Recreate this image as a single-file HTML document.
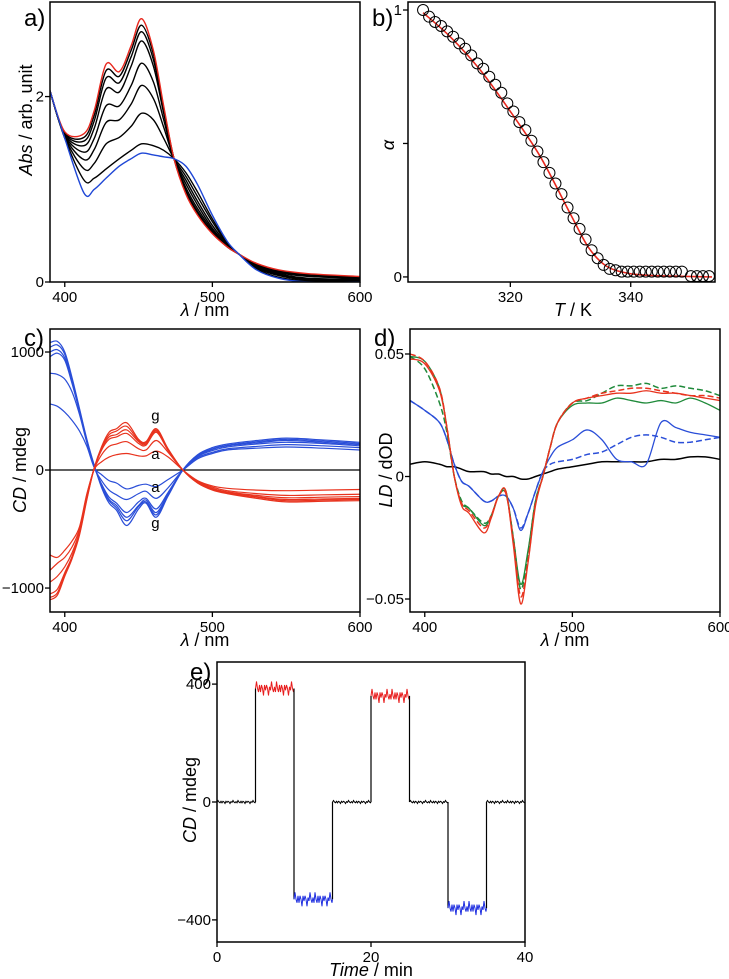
<!DOCTYPE html>
<html><head><meta charset="utf-8">
<style>
html,body{margin:0;padding:0;background:#fff;}
svg{display:block;font-family:"Liberation Sans",sans-serif;}
.tk{font-size:15px;fill:#000;}
.ttl{font-size:18px;fill:#000;}
.pl{font-size:24px;fill:#000;}
</style></head>
<body>
<svg id="fig" width="729" height="979" viewBox="0 0 729 979" xmlns="http://www.w3.org/2000/svg"></svg>
<script>
// ---------- Panel a data ----------
const aWl = [390,400,413,420,428,437,445,452,460,467,474,482,490,500,510,518,530,545,565,600];
const aRed = [2.06,1.62,1.60,1.85,2.35,2.27,2.55,2.84,2.50,1.90,1.33,0.95,0.72,0.52,0.38,0.30,0.20,0.13,0.09,0.06];
const aBlack1 = [2.06,1.61,1.56,1.80,2.28,2.22,2.50,2.77,2.46,1.88,1.33,0.97,0.74,0.53,0.38,0.30,0.19,0.12,0.08,0.05];
const aBlack2 = [2.06,1.60,1.52,1.74,2.20,2.15,2.43,2.70,2.40,1.85,1.33,0.99,0.76,0.54,0.38,0.30,0.19,0.11,0.07,0.05];
const aBlack3 = [2.06,1.59,1.47,1.66,2.08,2.05,2.33,2.60,2.33,1.82,1.33,1.02,0.79,0.56,0.39,0.30,0.18,0.10,0.06,0.04];
const aBlack4 = [2.06,1.58,1.40,1.55,1.90,1.90,2.12,2.36,2.16,1.75,1.33,1.06,0.83,0.58,0.40,0.30,0.17,0.09,0.04,0.03];
const aBlack5 = [2.06,1.57,1.32,1.43,1.72,1.75,1.92,2.12,1.98,1.67,1.33,1.10,0.87,0.61,0.41,0.30,0.16,0.08,0.03,0.02];
const aBlack6 = [2.06,1.56,1.22,1.28,1.49,1.56,1.68,1.82,1.75,1.55,1.33,1.14,0.92,0.65,0.42,0.30,0.15,0.07,0.02,0.01];
const aBlack7 = [2.06,1.55,1.10,1.12,1.22,1.33,1.42,1.49,1.47,1.42,1.33,1.18,0.97,0.68,0.43,0.30,0.14,0.05,0.01,0.00];
const aBlue = [2.06,1.55,0.96,1.00,1.12,1.25,1.33,1.39,1.37,1.35,1.33,1.25,1.05,0.72,0.44,0.30,0.13,0.04,0.00,0.00];
const aXTicks = [400,500,600];
const aYTicks = [0,2];

// ---------- Panel b data ----------
const bT = [305.5,306.5,307.5,308.5,309.5,310.5,311.5,312.5,313.5,314.5,315.5,316.5,317.5,318.5,319.5,320.5,321.5,322.5,323.5,324.5,325.5,326.5,327.5,328.5,329.5,330.5,331.5,332.5,333.5,334.5,335.5,336.5,337.5,338.5,339.5,340.5,341.5,342.5,343.5,344.5,345.5,346.5,347.5,348.5,350.0,351.0,352.0,353.0];
const bAlpha = [1.00,0.975,0.955,0.94,0.92,0.90,0.875,0.855,0.83,0.80,0.78,0.75,0.72,0.69,0.65,0.62,0.58,0.55,0.51,0.47,0.43,0.39,0.35,0.31,0.26,0.22,0.18,0.14,0.10,0.07,0.045,0.03,0.025,0.02,0.02,0.02,0.02,0.02,0.02,0.02,0.02,0.02,0.02,0.02,0.003,0.003,0.003,0.003];
const bFitT = [305.5,310,315,320,325,330,333,336,340,345,353.5];
const bFitA = [0.99,0.90,0.775,0.62,0.45,0.235,0.11,0.04,0.012,0.004,0.0];
const bXTicks = [320,340];
const bYTicks = [0,0.5,1];

// ---------- Panel c data ----------
const cWl = [390,395,400,405,410,415,420,425,430,435,442,450,455,462,470,480,490,500,510,530,550,575,600];
const cBlue1 = [1080,1090,1000,780,520,260,40,-150,-280,-340,-470,-330,-280,-400,-220,0,130,190,220,250,270,255,235];
const cBlue2 = [1040,1060,980,760,510,250,35,-140,-260,-320,-430,-310,-270,-380,-210,0,125,180,210,240,260,245,225];
const cBlue3 = [1000,1020,950,740,500,245,30,-130,-250,-300,-400,-300,-255,-360,-200,0,120,175,205,230,250,235,215];
const cBlue4 = [960,990,930,730,495,240,25,-120,-230,-280,-360,-270,-240,-330,-190,0,115,165,195,220,235,225,205];
const cBlue5 = [820,810,770,660,470,230,20,-90,-170,-210,-250,-200,-180,-240,-150,0,105,150,180,200,215,205,190];
const cBlue6 = [560,540,490,420,330,200,20,-40,-90,-110,-160,-130,-120,-140,-80,0,95,140,170,185,195,185,170];
const cRed1 = [-1100,-1060,-900,-750,-550,-250,20,200,320,350,400,260,240,350,180,0,-110,-170,-200,-240,-270,-265,-260];
const cRed2 = [-1080,-1040,-880,-740,-540,-240,20,190,300,330,370,250,230,340,175,0,-110,-165,-195,-230,-260,-255,-250];
const cRed3 = [-1050,-1010,-870,-730,-530,-230,20,180,280,300,340,240,220,330,170,0,-105,-160,-190,-225,-250,-245,-240];
const cRed4 = [-950,-900,-820,-700,-520,-220,15,170,260,280,310,225,210,320,165,0,-100,-155,-185,-215,-235,-230,-225];
const cRed5 = [-850,-790,-740,-650,-500,-210,10,130,200,220,240,180,170,250,150,0,-95,-145,-175,-200,-215,-210,-205];
const cRed6 = [-720,-740,-680,-600,-480,-200,5,70,110,130,140,120,120,160,110,0,-90,-135,-155,-170,-175,-170,-165];
const cZero = [0,0,0,0,0,0,0,0,0,0,0,0,0,0,0,0,0,0,0,0,0,0,0];
const cXTicks = [400,500,600];
const cYTicks = [-1000,0,1000];

// ---------- Panel d data ----------
const dWl = [390,400,410,415,420,425,430,440,445,450,455,460,465,470,475,480,485,490,500,510,520,530,540,550,560,570,580,590,600];
const dRedSolid = [0.048,0.046,0.035,0.020,0.000,-0.012,-0.015,-0.023,-0.017,-0.008,-0.006,-0.028,-0.052,-0.035,-0.012,0.000,0.012,0.022,0.030,0.032,0.033,0.034,0.034,0.035,0.034,0.034,0.033,0.032,0.031];
const dRedDash = [0.050,0.047,0.036,0.020,0.000,-0.011,-0.014,-0.021,-0.016,-0.008,-0.007,-0.026,-0.049,-0.034,-0.011,0.000,0.012,0.022,0.030,0.032,0.034,0.035,0.036,0.036,0.035,0.034,0.033,0.033,0.032];
const dGreenSolid = [0.049,0.047,0.036,0.020,0.000,-0.011,-0.013,-0.020,-0.016,-0.008,-0.006,-0.025,-0.044,-0.030,-0.010,0.000,0.012,0.022,0.029,0.030,0.030,0.032,0.031,0.030,0.031,0.030,0.032,0.030,0.027];
const dGreenDash = [0.049,0.044,0.030,0.018,0.000,-0.010,-0.013,-0.019,-0.016,-0.008,-0.007,-0.025,-0.046,-0.031,-0.010,0.000,0.012,0.022,0.030,0.031,0.034,0.037,0.037,0.038,0.036,0.037,0.036,0.035,0.033];
const dBlueSolid = [0.031,0.027,0.022,0.015,0.005,-0.002,-0.004,-0.010,-0.010,-0.008,-0.008,-0.013,-0.022,-0.015,-0.006,0.002,0.008,0.012,0.015,0.019,0.015,0.007,0.006,0.005,0.022,0.020,0.018,0.017,0.016];
const dBlueDash = [0.031,0.027,0.022,0.015,0.005,-0.002,-0.004,-0.010,-0.010,-0.008,-0.008,-0.013,-0.021,-0.015,-0.006,0.002,0.005,0.006,0.007,0.009,0.010,0.013,0.016,0.017,0.016,0.014,0.014,0.015,0.016];
const dBlack = [0.005,0.006,0.005,0.004,0.004,0.003,0.002,0.002,0.001,0.001,0.000,0.000,-0.001,-0.001,0.000,0.001,0.002,0.003,0.004,0.005,0.006,0.006,0.006,0.006,0.007,0.007,0.008,0.008,0.007];
const dXTicks = [400,500,600];
const dYTicks = [-0.05,0,0.05];

// ---------- Panel e data ----------
const eSegStart = [0,5,10,15,20,25,30,35];
const eSegEnd = [5,10,15,20,25,30,35,40];
const eSegLevel = [0,385,-330,0,360,0,-360,0];
const eSegKind = ["off","p","m","off","p","off","m","off"];
const eXTicks = [0,20,40];
const eYTicks = [-400,0,400];

const NS = "http://www.w3.org/2000/svg";
const svg = document.getElementById("fig");
function el(tag, attrs, parent) {
  const e = document.createElementNS(NS, tag);
  for (const k in attrs) e.setAttribute(k, attrs[k]);
  (parent || svg).appendChild(e);
  return e;
}
function scale(d0, d1, r0, r1) { return v => r0 + (v - d0) * (r1 - r0) / (d1 - d0); }
function smoothPath(xs, ys) {
  let d = "M" + xs[0].toFixed(2) + "," + ys[0].toFixed(2);
  for (let i = 0; i < xs.length - 1; i++) {
    const x0 = xs[Math.max(i-1,0)], y0 = ys[Math.max(i-1,0)];
    const x1 = xs[i], y1 = ys[i], x2 = xs[i+1], y2 = ys[i+1];
    const x3 = xs[Math.min(i+2,xs.length-1)], y3 = ys[Math.min(i+2,xs.length-1)];
    const c1x = x1 + (x2 - x0)/6, c1y = y1 + (y2 - y0)/6;
    const c2x = x2 - (x3 - x1)/6, c2y = y2 - (y3 - y1)/6;
    d += " C" + c1x.toFixed(2) + "," + c1y.toFixed(2) + " " + c2x.toFixed(2) + "," + c2y.toFixed(2) + " " + x2.toFixed(2) + "," + y2.toFixed(2);
  }
  return d;
}
function panel(name, box, xd, yd) {
  const g = el("g", {});
  
  
  const clipId = name + "-clip";
  const cp = el("clipPath", {id: clipId}, g);
  el("rect", {x: box.l, y: box.t, width: box.r - box.l, height: box.b - box.t}, cp);
  const plot = el("g", {"clip-path": "url(#" + clipId + ")"}, g);
  
  
  return {g, plot, box, x: scale(xd[0], xd[1], box.l, box.r), y: scale(yd[0], yd[1], box.b, box.t)};
}
function frame(P) {
  const b = P.box;
  const r = el("rect", {x: b.l, y: b.t, width: b.r - b.l, height: b.b - b.t, fill: "none", stroke: "#000", "stroke-width": 1.5}, P.g);
  
  
}
function xTicks(P, ticks, fmt) {
  const ax = el("g", {}, P.g);
  
  
  ticks.forEach(t => {
    const X = P.x(t);
    el("line", {x1: X, x2: X, y1: P.box.b, y2: P.box.b + 5, stroke: "#000", "stroke-width": 1.3}, ax);
    const tx = el("text", {x: X, y: P.box.b + 20, "text-anchor": "middle", class: "tk"}, ax);
    tx.textContent = fmt ? fmt(t) : String(t);
    
    
  });
}
function yTicks(P, ticks, fmt) {
  const ax = el("g", {}, P.g);
  
  
  ticks.forEach(t => {
    const Y = P.y(t);
    el("line", {x1: P.box.l - 5, x2: P.box.l, y1: Y, y2: Y, stroke: "#000", "stroke-width": 1.3}, ax);
    const s = fmt ? fmt(t) : String(t);
    if (s === "") return;
    const tx = el("text", {x: P.box.l - 6, y: Y + 5, "text-anchor": "end", class: "tk"}, ax);
    tx.textContent = s;
    
    
  });
}
function curve(P, xs, ys, color, name, width, dash) {
  const p = el("path", {d: smoothPath(xs.map(P.x), ys.map(P.y)), fill: "none", stroke: color, "stroke-width": width || 1.3, "stroke-linejoin": "round"}, P.plot);
  if (dash) p.setAttribute("stroke-dasharray", dash);
  
  
  return p;
}
function label(txt, x, y, cls, name, extra) {
  const t = el("text", Object.assign({x: x, y: y, class: cls}, extra || {}));
  t.innerHTML = txt;
  
  
  return t;
}

// ===== Panel a =====
const A = panel("panel-a", {l: 50, r: 360, t: 2, b: 282}, [390, 600], [0, 3.02]);
const aBlacks = [aBlack1, aBlack2, aBlack3, aBlack4, aBlack5, aBlack6, aBlack7];
aBlacks.forEach((s, i) => curve(A, aWl, s, "#000", "abs-spectrum-" + (i+2), 1.4));
curve(A, aWl, aRed, "#e8281e", "abs-spectrum-red", 1.4);
curve(A, aWl, aBlue, "#1f47d6", "abs-spectrum-blue", 1.4);
frame(A); xTicks(A, aXTicks); yTicks(A, aYTicks);
label("a)", 24, 26, "pl", "panel-a-label");
label('<tspan font-style="italic">Abs</tspan> / arb. unit', 0, 0, "ttl", "y-axis-title-a", {transform: "translate(32,120) rotate(-90)", "text-anchor": "middle"});
label('<tspan font-style="italic">λ</tspan> / nm', 205, 316, "ttl", "x-axis-title-a", {"text-anchor": "middle"});

// ===== Panel b =====
const B = panel("panel-b", {l: 408, r: 715, t: 2, b: 282}, [303.0, 354.0], [-0.019, 1.03]);
curve(B, bFitT, bFitA, "#e8281e", "fit-line", 1.6);
bT.forEach((t, i) => {
  const c = el("circle", {cx: B.x(t), cy: B.y(bAlpha[i]), r: 5.5, fill: "none", stroke: "#000", "stroke-width": 1}, B.plot);
  
  
});
frame(B); xTicks(B, bXTicks); yTicks(B, bYTicks, t => t === 0.5 ? "" : String(t));
label("b)", 372, 26, "pl", "panel-b-label");
label('α', 0, 0, "ttl", "y-axis-title-b", {transform: "translate(394,145) rotate(-90)", "text-anchor": "middle", "font-style": "italic"});
label('<tspan font-style="italic">T</tspan> / K', 573, 316, "ttl", "x-axis-title-b", {"text-anchor": "middle"});

// ===== Panel c =====
const C = panel("panel-c", {l: 50, r: 360, t: 329, b: 612}, [390, 600], [-1203, 1195]);
curve(C, cWl, cZero, "#000", "zero-line", 1.2);
[cBlue1, cBlue2, cBlue3, cBlue4, cBlue5, cBlue6].forEach((s, i) => curve(C, cWl, s, "#2a4ed8", "cd-blue-" + (i+1), 1.2));
[cRed1, cRed2, cRed3, cRed4, cRed5, cRed6].forEach((s, i) => curve(C, cWl, s, "#e8331e", "cd-red-" + (i+1), 1.2));
frame(C); xTicks(C, cXTicks); yTicks(C, cYTicks, t => t < 0 ? "\u22121000" : String(t));
label("g", C.x(462) - 5, C.y(420), "tk", "label-g-red");
label("a", C.x(462) - 5, C.y(95), "tk", "label-a-red");
label("a", C.x(462) - 5, C.y(-185), "tk", "label-a-blue");
label("g", C.x(462) - 5, C.y(-490), "tk", "label-g-blue");
label("c)", 24, 346, "pl", "panel-c-label");
label('<tspan font-style="italic">CD</tspan> / mdeg', 0, 0, "ttl", "y-axis-title-c", {transform: "translate(26,470) rotate(-90)", "text-anchor": "middle"});
label('<tspan font-style="italic">λ</tspan> / nm', 205, 646, "ttl", "x-axis-title-c", {"text-anchor": "middle"});

// ===== Panel d =====
const D = panel("panel-d", {l: 410, r: 720, t: 329, b: 612}, [390, 600], [-0.0553, 0.0602]);
curve(D, dWl, dBlack, "#000", "ld-black", 1.5);
curve(D, dWl, dBlueDash, "#2a4ed8", "ld-blue-dashed", 1.5, "6,3");
curve(D, dWl, dBlueSolid, "#2a4ed8", "ld-blue-solid", 1.3);
curve(D, dWl, dGreenDash, "#1f8a3a", "ld-green-dashed", 1.5, "6,3");
curve(D, dWl, dGreenSolid, "#1f8a3a", "ld-green-solid", 1.3);
curve(D, dWl, dRedDash, "#e8331e", "ld-red-dashed", 1.5, "6,3");
curve(D, dWl, dRedSolid, "#e8331e", "ld-red-solid", 1.3);
frame(D); xTicks(D, dXTicks); yTicks(D, dYTicks, t => t === 0 ? "0" : (t < 0 ? "\u22120.05" : "0.05"));
label("d)", 374, 346, "pl", "panel-d-label");
label('<tspan font-style="italic">LD</tspan> / dOD', 0, 0, "ttl", "y-axis-title-d", {transform: "translate(392,470) rotate(-90)", "text-anchor": "middle"});
label('<tspan font-style="italic">λ</tspan> / nm', 565, 646, "ttl", "x-axis-title-d", {"text-anchor": "middle"});

// ===== Panel e =====
const E = panel("panel-e", {l: 217, r: 525, t: 662, b: 942}, [0, 40], [-475, 475]);
const eCol = {off: "#000", p: "#e81e1e", m: "#1f2fe0"};
eSegStart.forEach((s, i) => {
  const x0 = E.x(s), x1 = E.x(eSegEnd[i]), Y = E.y(eSegLevel[i]);
  const amp = eSegKind[i] === "off" ? 1.5 : 7;
  let d = "M" + x0 + "," + Y;
  let k = 0;
  for (let x = x0 + 1; x < x1; x += 1, k++) {
    const off = ((k * 7) % 5 - 2) / 2 * amp * (((k * 3) % 4) < 2 ? 1 : 0.5);
    d += " L" + x + "," + (Y + off).toFixed(1);
  }
  d += " L" + x1 + "," + Y;
  const p = el("path", {d: d, fill: "none", stroke: eCol[eSegKind[i]], "stroke-width": 1}, E.plot);
  
  
  if (i < eSegStart.length - 1) {
    const v = el("line", {x1: x1, x2: x1, y1: Y, y2: E.y(eSegLevel[i+1]), stroke: "#000", "stroke-width": 1.2}, E.plot);
    
    
  }
});
frame(E); xTicks(E, eXTicks); yTicks(E, eYTicks, t => t < 0 ? "\u2212400" : String(t));
label("e)", 190, 680, "pl", "panel-e-label");
label('<tspan font-style="italic">CD</tspan> / mdeg', 0, 0, "ttl", "y-axis-title-e", {transform: "translate(196,800) rotate(-90)", "text-anchor": "middle"});
label('<tspan font-style="italic">Time</tspan> / min', 371, 976, "ttl", "x-axis-title-e", {"text-anchor": "middle"});
</script>
</body></html>
